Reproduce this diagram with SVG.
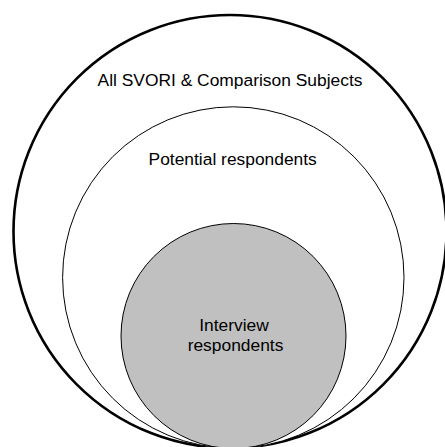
<svg xmlns="http://www.w3.org/2000/svg" width="445" height="447" viewBox="0 0 445 447">
<style>
.lbl{font-family:"Liberation Sans",Arial,sans-serif;font-size:17.4px;fill:#000;text-anchor:middle}
.c{stroke:#000;stroke-width:1}
</style>
<rect width="445" height="447" fill="#fff"/>
<g id="outer">
<circle cx="230" cy="231.5" r="216.5" fill="#fff" stroke="#000" stroke-width="2.6"/>
<text class="lbl" x="230" y="86">All SVORI &amp; Comparison Subjects</text>
</g>
<g id="potential">
<circle class="c" cx="233.3" cy="277.5" r="170.7" fill="#fff"/>
<text class="lbl" x="232.7" y="165">Potential respondents</text>
</g>
<g id="interview">
<circle class="c" cx="233.5" cy="336" r="112.5" fill="#c0c0c0"/>
<text class="lbl" x="234" y="331">Interview</text>
<text class="lbl" x="235.5" y="351">respondents</text>
</g>
<g id="connectors"/>
</svg>
